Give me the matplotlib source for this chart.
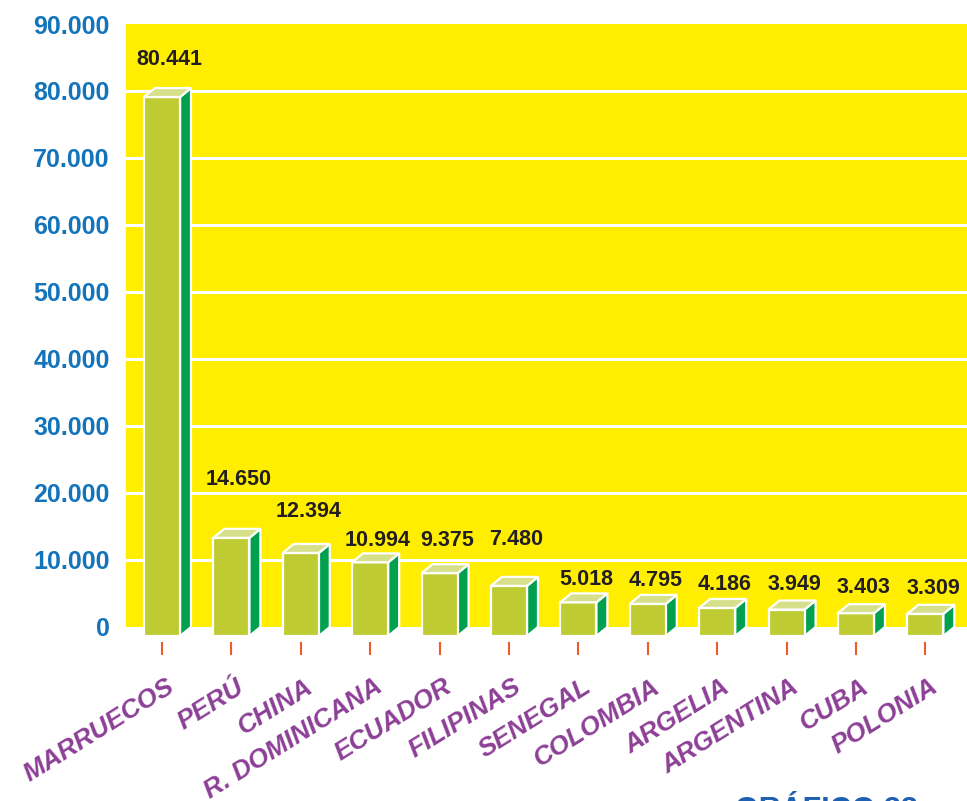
import matplotlib
matplotlib.use("Agg")
import matplotlib.pyplot as plt
from matplotlib.patches import Polygon
from matplotlib.transforms import ScaledTranslation

plt.rcParams['font.family'] = ['Liberation Sans', 'DejaVu Sans']

# ---- data ----
countries = ["MARRUECOS", "PERÚ", "CHINA", "R. DOMINICANA", "ECUADOR", "FILIPINAS",
             "SENEGAL", "COLOMBIA", "ARGELIA", "ARGENTINA", "CUBA", "POLONIA"]
values = [80441, 14650, 12394, 10994, 9375, 7480, 5018, 4795, 4186, 3949, 3403, 3309]
value_labels = ["80.441", "14.650", "12.394", "10.994", "9.375", "7.480",
                "5.018", "4.795", "4.186", "3.949", "3.403", "3.309"]
y_ticks = [0, 10000, 20000, 30000, 40000, 50000, 60000, 70000, 80000, 90000]
y_tick_labels = ["0", "10.000", "20.000", "30.000", "40.000", "50.000",
                 "60.000", "70.000", "80.000", "90.000"]

# ---- style ----
label_offsets_pt = [16.9, 31.3, 19.1, 5.4, 13.3, 22.7, 6.1, 6.1, 6.8, 7.6, 8.3, 7.6]
YELLOW = "#FFEE00"
FRONT = "#BFCB33"
SIDE = "#00A04F"
TOP = "#D6E08A"
BLUE = "#1374BC"
PURPLE = "#8C3F96"
TICK = "#F15A29"

fig = plt.figure(figsize=(9.67, 8.01), dpi=100)
ax = fig.add_axes([125 / 967, (801 - 642) / 801, 1 - 125 / 967, (642 - 24) / 801])
ax.set_facecolor("white")

ymin = -2240
ax.set_ylim(ymin, 90000)
ax.set_xlim(-0.533, 11.6)

ax.axhspan(0, 90000, color=YELLOW, zorder=0, lw=0)
for yv in y_ticks[1:-1]:
    ax.axhline(yv, color="white", lw=2.2, zorder=1)

w = 0.26      # half width of front face
dx = 0.158    # depth in x
dd = 1343     # depth in y (data units)

for i, v in enumerate(values):
    c = i
    front = Polygon([(c - w, -dd), (c + w, -dd), (c + w, v - dd), (c - w, v - dd)],
                    closed=True, facecolor=FRONT, edgecolor="white", lw=1.6, zorder=3)
    side = Polygon([(c + w, -dd), (c + w + dx, 0), (c + w + dx, v), (c + w, v - dd)],
                   closed=True, facecolor=SIDE, edgecolor="white", lw=1.6, zorder=3)
    top = Polygon([(c - w, v - dd), (c + w, v - dd), (c + w + dx, v), (c - w + dx, v)],
                  closed=True, facecolor=TOP, edgecolor="white", lw=1.6, zorder=3)
    for p in (side, front, top):
        ax.add_patch(p)
    ax.annotate(value_labels[i], xy=(c + 0.11, v), xytext=(0, label_offsets_pt[i]),
                textcoords="offset points", ha="center", va="baseline",
                fontsize=15.5, fontweight="bold", color="#231F20", zorder=5)

for s in ["top", "right", "bottom"]:
    ax.spines[s].set_visible(False)
ax.spines["left"].set_color("white")
ax.spines["left"].set_linewidth(1.2)
ax.spines["left"].set_bounds(0, 90000)

ax.set_yticks(y_ticks)
ax.set_yticklabels(y_tick_labels, fontsize=18, fontweight="bold", color=BLUE)
ax.tick_params(axis="y", length=0, pad=11)

ax.set_xticks(range(len(countries)))
ax.set_xticklabels(countries, rotation=32, ha="right", rotation_mode="anchor",
                   fontsize=19, fontweight="bold", fontstyle="italic", color=PURPLE)
ax.tick_params(axis="x", length=9.5, width=1.5, color=TICK, direction="out", pad=14)
offset = ScaledTranslation(4 / 100, 0, fig.dpi_scale_trans)
for lbl in ax.get_xticklabels():
    lbl.set_transform(lbl.get_transform() + offset)

fig.text(735 / 967, (801 - 819) / 801, "GRÁFICO 33", fontsize=22, fontweight="bold",
         color="#2060B0", ha="left", va="baseline")

fig.savefig("out.png", dpi=100)
